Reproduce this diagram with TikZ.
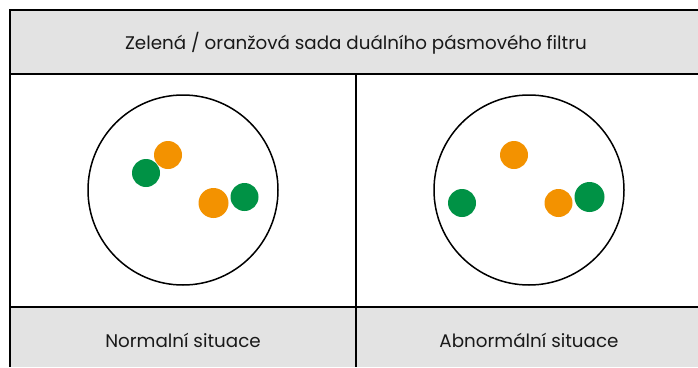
\documentclass[tikz,border=0pt]{standalone}
\usepackage{fontspec}
\setmainfont{Poppins}
\usepackage{tikz}
\definecolor{cellgray}{RGB}{227,227,227}
\definecolor{dotgreen}{RGB}{0,146,69}
\definecolor{dotorange}{RGB}{243,146,0}

\begin{document}
\begin{tikzpicture}[x=1pt, y=-1pt,
  dish/.style={circle, draw, line width=1.5pt, inner sep=0pt, minimum size=190pt},
  dot/.style={circle, inner sep=0pt, minimum size=28pt},
  celltext/.style={font=\fontsize{18.3}{22}\selectfont, text=black!90}]
\useasboundingbox (0,0) rectangle (698,367);

% draw gray rows
\fill[cellgray] (10,10) rectangle (698,74);
\fill[cellgray] (10,307) rectangle (698,367);

% draw table lines
\draw[line width=1.5pt] (10,10) -- (698,10);
\draw[line width=2.2pt] (10,74) -- (698,74);
\draw[line width=2pt] (10,307) -- (698,307);
\draw[line width=2pt] (10,9.25) -- (10,367);
\draw[line width=2pt] (356,74) -- (356,367);

% labels
\node[celltext] (title) at (356,43) {Zelená / oranžová sada duálního pásmového filtru};
\node[celltext] (normal) at (183,340) {Normalní situace};
\node[celltext] (abnormal) at (529,340) {Abnormální situace};

% normal situation
\node[dish] (leftdish) at (183,190) {};
\node[dot, fill=dotorange] (lo1) at (168,155) {};
\node[dot, fill=dotgreen] (lg1) at (146,173) {};
\node[dot, fill=dotorange, minimum width=30pt] (lo2) at (213.5,203) {};
\node[dot, fill=dotgreen] (lg2) at (244.5,197) {};

% abnormal situation
\node[dish] (rightdish) at (529,190) {};
\node[dot, fill=dotorange] (ro1) at (514,155) {};
\node[dot, fill=dotgreen] (rg1) at (462,203) {};
\node[dot, fill=dotorange] (ro2) at (558.5,203) {};
\node[dot, fill=dotgreen, minimum width=30pt] (rg2) at (589.5,197) {};

\end{tikzpicture}
\end{document}
